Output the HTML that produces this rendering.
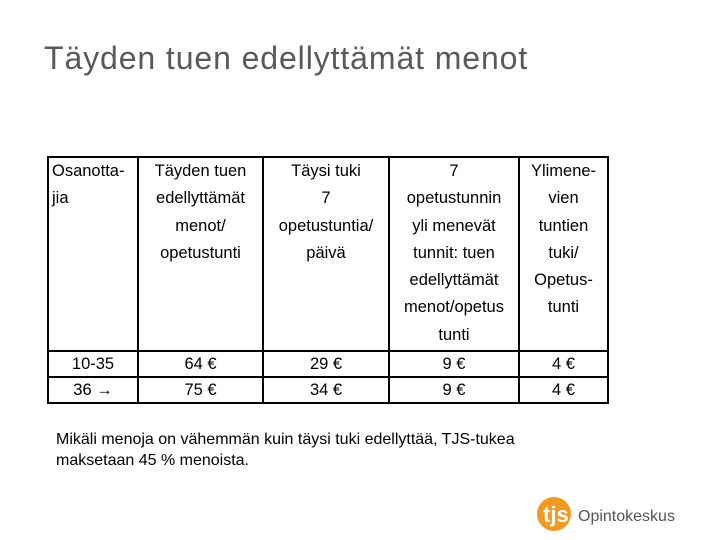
<!DOCTYPE html>
<html><head><meta charset="utf-8"><style>
body{margin:0;width:720px;height:540px;background:#fff;position:relative;overflow:hidden;font-family:"Liberation Sans",sans-serif;}
#title{position:absolute;left:44px;top:40px;font-size:32px;color:#595959;letter-spacing:0.9px;}
table{position:absolute;left:47px;top:156px;border-collapse:collapse;table-layout:fixed;width:560px;font-size:16.5px;color:#000;}
td{border:2px solid #000;padding:0 3px;line-height:27.3px;vertical-align:top;text-align:center;overflow:hidden;white-space:nowrap;}
td.l{text-align:left;}
.note{position:absolute;left:56px;top:429px;font-size:16px;line-height:21px;color:#000;}
#logo{position:absolute;left:536px;top:496px;}
</style></head><body>
<div id="title">Täyden tuen edellyttämät menot</div>
<table>
<colgroup><col style="width:90px"><col style="width:125px"><col style="width:126px"><col style="width:130px"><col style="width:89px"></colgroup>
<tr style="height:194px">
<td class="l">Osanotta-<br>jia</td>
<td>Täyden tuen<br>edellyttämät<br>menot/<br>opetustunti</td>
<td>Täysi tuki<br>7<br>opetustuntia/<br>päivä</td>
<td>7<br>opetustunnin<br>yli menevät<br>tunnit: tuen<br>edellyttämät<br>menot/opetus<br>tunti</td>
<td>Ylimene-<br>vien<br>tuntien<br>tuki/<br>Opetus-<br>tunti</td>
</tr>
<tr><td style="line-height:24px">10-35</td><td style="line-height:24px">64 €</td><td style="line-height:24px">29 €</td><td style="line-height:24px">9 €</td><td style="line-height:24px">4 €</td></tr>
<tr><td style="line-height:24px">36 →</td><td style="line-height:24px">75 €</td><td style="line-height:24px">34 €</td><td style="line-height:24px">9 €</td><td style="line-height:24px">4 €</td></tr>
</table>
<div class="note">Mikäli menoja on vähemmän kuin täysi tuki edellyttää, TJS-tukea<br>maksetaan 45 % menoista.</div>
<div id="logo">
<svg width="150" height="36" viewBox="0 0 150 36">
<circle cx="18" cy="18" r="17" fill="#f39a1e"/>
<text x="7" y="26" font-family="Liberation Sans" font-size="22" fill="#fff" font-weight="bold">tjs</text>
<text x="42" y="25" font-family="Liberation Sans" font-size="16" fill="#555">Opintokeskus</text>
</svg></div>
</body></html>
